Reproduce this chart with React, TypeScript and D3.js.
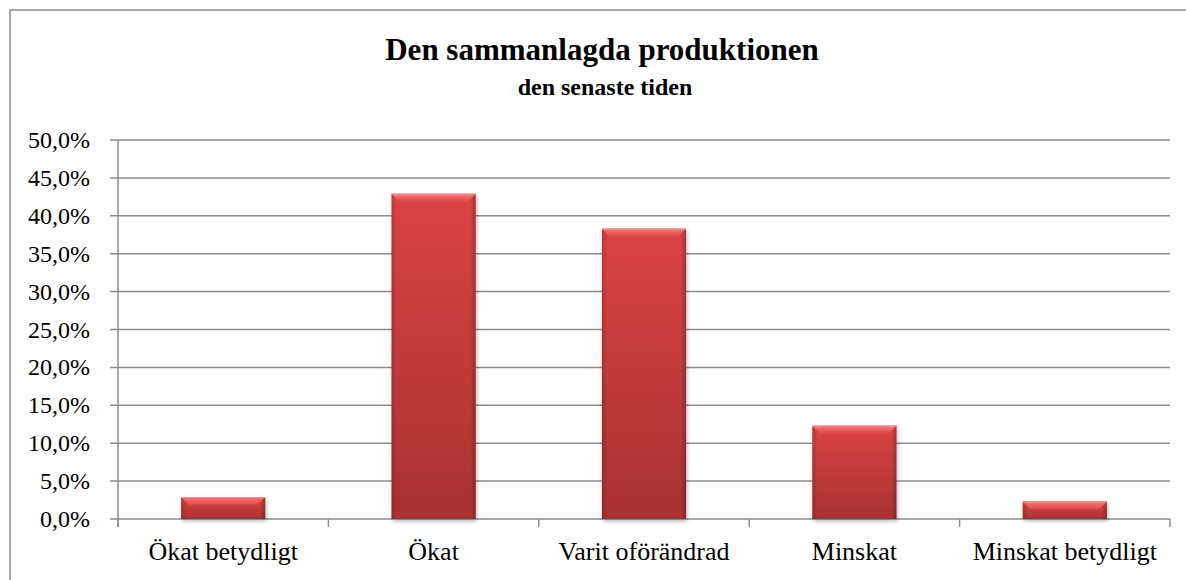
import * as d3 from "d3";
import { useEffect, useRef } from "react";

const categories = ["Ökat betydligt", "Ökat", "Varit oförändrad", "Minskat", "Minskat betydligt"];
const values = [2.9, 42.9, 38.3, 12.3, 2.3];
const yTicks = [0, 5, 10, 15, 20, 25, 30, 35, 40, 45, 50];

export default function App() {
  const svgRef = useRef<SVGSVGElement | null>(null);

  useEffect(() => {
    if (!svgRef.current) return;
    const svg = d3.select(svgRef.current);
    svg.selectAll("*").remove();

    const width = 1186;
    const height = 580;
    const left = 118;
    const right = 1170;
    const top = 140;
    const bottom = 519;
    const font = "'Liberation Serif', 'DejaVu Serif', serif";

    const defs = svg.append("defs");
    const body = defs.append("linearGradient").attr("id", "barBody").attr("x1", 0).attr("y1", 0).attr("x2", 0).attr("y2", 1);
    body.append("stop").attr("offset", "0%").attr("stop-color", "#da4444");
    body.append("stop").attr("offset", "100%").attr("stop-color", "#a93131");
    const side = defs.append("linearGradient").attr("id", "barSide").attr("x1", 0).attr("y1", 0).attr("x2", 1).attr("y2", 0);
    side.append("stop").attr("offset", "0%").attr("stop-color", "#000").attr("stop-opacity", 0.18);
    side.append("stop").attr("offset", "6%").attr("stop-color", "#000").attr("stop-opacity", 0);
    side.append("stop").attr("offset", "94%").attr("stop-color", "#000").attr("stop-opacity", 0);
    side.append("stop").attr("offset", "100%").attr("stop-color", "#000").attr("stop-opacity", 0.25);
    const bevel = defs.append("linearGradient").attr("id", "barBevel").attr("x1", 0).attr("y1", 0).attr("x2", 0).attr("y2", 1);
    bevel.append("stop").attr("offset", "0%").attr("stop-color", "#f47a7a");
    bevel.append("stop").attr("offset", "100%").attr("stop-color", "#dc4848");
    const shadow = defs.append("filter").attr("id", "barShadow").attr("x", "-20%").attr("y", "-20%").attr("width", "140%").attr("height", "140%");
    shadow.append("feDropShadow").attr("dx", 1).attr("dy", 2).attr("stdDeviation", 2).attr("flood-color", "#000").attr("flood-opacity", 0.3);

    svg.append("rect").attr("width", width).attr("height", height).attr("fill", "#fff");
    svg.append("rect")
      .attr("x", 10).attr("y", 10).attr("width", 1200).attr("height", 600)
      .attr("fill", "none").attr("stroke", "#8c8c8c").attr("stroke-width", 1.5);

    svg.append("text")
      .attr("x", 602).attr("y", 60)
      .attr("text-anchor", "middle")
      .style("font-family", font).style("font-weight", "bold").style("font-size", "31px")
      .text("Den sammanlagda produktionen");
    svg.append("text")
      .attr("x", 605).attr("y", 95)
      .attr("text-anchor", "middle")
      .style("font-family", font).style("font-weight", "bold").style("font-size", "24px")
      .text("den senaste tiden");

    const x = d3.scaleBand<string>().domain(categories).range([left, right]).paddingInner(0.6).paddingOuter(0.3);
    const xb = d3.scaleBand<string>().domain(categories).range([left, right]).padding(0);
    const y = d3.scaleLinear().domain([0, 50]).range([bottom, top]);

    // gridlines
    svg.append("g").selectAll("line").data(yTicks).enter().append("line")
      .attr("x1", left - 8).attr("x2", right)
      .attr("y1", (d) => y(d)).attr("y2", (d) => y(d))
      .attr("stroke", "#8c8c8c").attr("stroke-width", 1.5);

    // y axis
    svg.append("line").attr("x1", left).attr("x2", left).attr("y1", top).attr("y2", bottom + 8)
      .attr("stroke", "#8c8c8c").attr("stroke-width", 1.5);
    svg.append("g").selectAll("text").data(yTicks).enter().append("text")
      .attr("x", 90).attr("y", (d) => y(d) + 8)
      .attr("text-anchor", "end")
      .style("font-family", font).style("font-size", "24px")
      .text((d) => d.toFixed(1).replace(".", ",") + "%");

    // x axis ticks
    const bounds = categories.map((c) => xb(c)!).concat([right]);
    svg.append("g").selectAll("line").data(bounds).enter().append("line")
      .attr("x1", (d) => d).attr("x2", (d) => d).attr("y1", bottom).attr("y2", bottom + 8)
      .attr("stroke", "#8c8c8c").attr("stroke-width", 1.5);
    svg.append("g").selectAll("text").data(categories).enter().append("text")
      .attr("x", (d) => xb(d)! + xb.bandwidth() / 2).attr("y", 560)
      .attr("text-anchor", "middle")
      .style("font-family", font).style("font-size", "26px")
      .text((d) => d);

    // bars
    const bw = x.bandwidth();
    const bars = svg.append("g").selectAll("g").data(categories).enter().append("g");
    bars.append("rect")
      .attr("x", (d) => x(d)!).attr("y", (d, i) => y(values[i]))
      .attr("width", bw).attr("height", (d, i) => bottom - y(values[i]))
      .attr("fill", "url(#barBody)").attr("filter", "url(#barShadow)");
    bars.append("rect")
      .attr("x", (d) => x(d)!).attr("y", (d, i) => y(values[i]))
      .attr("width", bw).attr("height", (d, i) => bottom - y(values[i]))
      .attr("fill", "url(#barSide)");
    bars.append("path")
      .attr("d", (d, i) => {
        const x0 = x(d)!;
        const y0 = y(values[i]);
        const h = Math.min(8, (bottom - y0) / 2);
        return `M${x0},${y0}L${x0 + bw},${y0}L${x0 + bw - h},${y0 + h}L${x0 + h},${y0 + h}Z`;
      })
      .attr("fill", "url(#barBevel)");
    bars.append("line")
      .attr("x1", (d) => x(d)!).attr("x2", (d) => x(d)! + bw)
      .attr("y1", (d, i) => y(values[i]) + 0.5).attr("y2", (d, i) => y(values[i]) + 0.5)
      .attr("stroke", "#c8a0a0").attr("stroke-width", 1);
  }, []);

  return (
    <svg ref={svgRef} width={1186} height={580} style={{ display: "block", position: "absolute", left: 0, top: 0, overflow: "hidden" }}></svg>
  );
}
